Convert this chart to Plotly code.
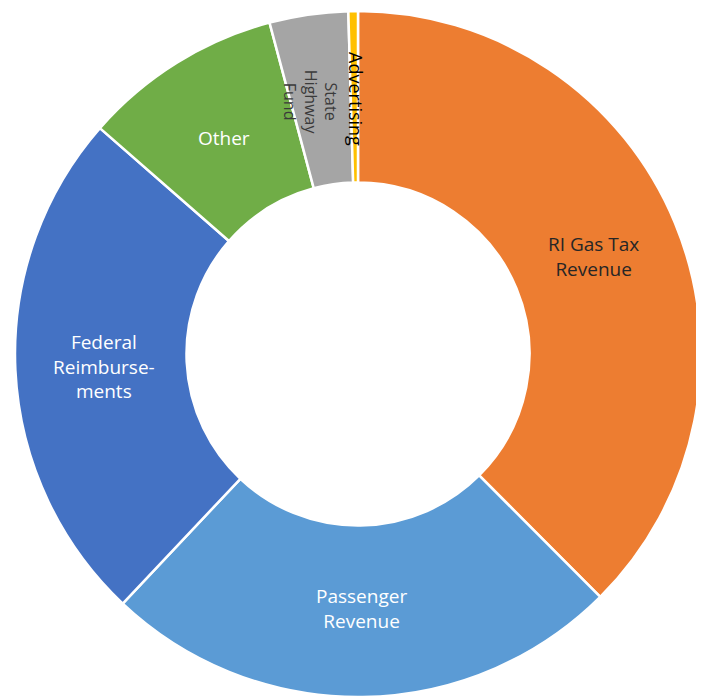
import math
import plotly.graph_objects as go

# ---- data ----
labels = ["RI Gas Tax Revenue", "Passenger Revenue", "Federal Reimbursements",
          "Other", "State Highway Fund", "Advertising"]
values = [37.5, 24.5, 24.4, 9.4, 3.7, 0.45]
label_lines = [["RI Gas Tax", "Revenue"], ["Passenger", "Revenue"],
               ["Federal", "Reimburse-", "ments"], ["Other"],
               ["State", "Highway", "Fund"], ["Advertising"]]

# ---- styles ----
colors = ["#ED7D31", "#5B9BD5", "#4472C4", "#70AD47", "#A5A5A5", "#FFC000"]
text_colors = ["#262626", "#FFFFFF", "#FFFFFF", "#FFFFFF", "#3A3A3A", "#000000"]
rotated = [False, False, False, False, True, True]
font_sizes = [19, 19, 19, 19, 16, 18]
label_xshift = [0, 0, 0, 0, -11, 2]   # px nudges for the narrow slices
FONT = "Open Sans"
LABEL_R = 0.742  # fraction of outer radius

W, H = 704, 696
ML, MR, MT, MB = 7, 11, 3, 7

fig = go.Figure(go.Pie(
    labels=labels, values=values, hole=0.5, sort=False,
    direction="clockwise", rotation=0,
    marker=dict(colors=colors, line=dict(color="white", width=2.5)),
    textinfo="none", hoverinfo="label+percent", showlegend=False,
))

total = sum(values)
cum = 0.0
annotations = []
for i, v in enumerate(values):
    mid = (cum + v / 2) / total * 2 * math.pi
    cum += v
    x = 0.5 + 0.5 * LABEL_R * math.sin(mid)
    y = 0.5 + 0.5 * LABEL_R * math.cos(mid)
    ann = dict(x=x, y=y, xref="paper", yref="paper",
               text="<br>".join(label_lines[i]),
               showarrow=False, xanchor="center", yanchor="middle",
               align="center", xshift=label_xshift[i],
               font=dict(family=FONT, size=font_sizes[i], color=text_colors[i]))
    if rotated[i]:
        ann["textangle"] = 90
    annotations.append(ann)

fig.update_layout(
    width=W, height=H,
    margin=dict(l=ML, r=MR, t=MT, b=MB, autoexpand=False),
    paper_bgcolor="white", plot_bgcolor="white",
    annotations=annotations,
)
fig.write_html("out.html")
